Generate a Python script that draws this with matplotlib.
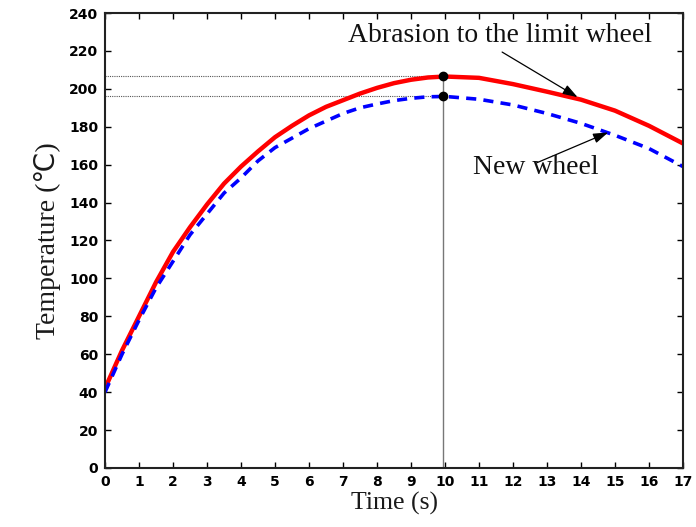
import matplotlib
matplotlib.use("Agg")
import matplotlib.pyplot as plt

time_s = [0, 0.5, 1, 1.5, 2, 2.5, 3, 3.5, 4, 4.5, 5, 5.5, 6, 6.5, 7, 7.5,
          8, 8.5, 9, 9.5, 10, 11, 12, 13, 14, 15, 16, 17]
temp_worn = [42, 62, 80, 98, 114, 127, 139, 150, 159, 167, 174.5, 180.5, 186,
             190.5, 194, 197.5, 200.5, 203, 204.8, 206, 206.5, 205.8, 202.5,
             198.5, 194.3, 188.5, 180.5, 171.2]
temp_new = [40, 60, 78, 95, 109, 123, 134, 145, 153, 162, 169, 174, 179, 183,
            187, 190, 192, 193.8, 195, 195.8, 196, 194.5, 191.5, 187, 181.8,
            175.5, 168.5, 159]

peak_time = 9.94
peak_worn = 206.8
peak_new = 196.2

serif = "Liberation Serif"
arrow = dict(arrowstyle="-|>,head_length=0.9,head_width=0.3", mutation_scale=10,
             color="black", lw=0.9, shrinkA=0, shrinkB=0)


def main():
    fig = plt.figure(figsize=(6.96, 5.27), dpi=100)
    ax = fig.add_axes([0.1509, 0.112, 0.8304, 0.8633])

    # guide lines to the peaks
    ax.plot([0, peak_time], [peak_worn, peak_worn], color="#555555", lw=0.8, ls=(0, (1, 1)))
    ax.plot([0, peak_time], [peak_new, peak_new], color="#555555", lw=0.8, ls=(0, (1, 1)))
    ax.plot([peak_time, peak_time], [0, peak_worn], color="#777777", lw=1.0)

    ax.plot(time_s, temp_worn, color="#ff0000", lw=3.2, solid_capstyle="butt")
    ax.plot(time_s, temp_new, color="#0000ff", lw=2.6, dashes=(2.8, 2.0))

    ax.plot([peak_time, peak_time], [peak_worn, peak_new], "o", color="black", ms=6)

    ax.text(11.62, 228, "Abrasion to the limit wheel", ha="center", va="center",
            fontsize=20, family=serif, color="#111111")
    ax.annotate("", xy=(13.9, 195.6), xytext=(11.68, 219.4), arrowprops=arrow)
    ax.annotate("", xy=(14.8, 177), xytext=(12.7, 161), arrowprops=arrow)
    ax.text(12.68, 158.5, "New wheel", ha="center", va="center", fontsize=20,
            family=serif, color="#111111")

    ax.set_xlim(0, 17)
    ax.set_ylim(0, 240)
    ax.set_xticks(range(0, 18))
    ax.set_yticks(range(0, 241, 20))
    ax.tick_params(direction="in", top=True, right=True, length=4, width=1,
                   labelsize=10, pad=5)
    for lab in ax.get_xticklabels() + ax.get_yticklabels():
        lab.set_fontweight("bold")
        lab.set_family("DejaVu Sans")
    for sp in ax.spines.values():
        sp.set_linewidth(1.5)
        sp.set_color("#222222")

    ax.set_xlabel("Time (s)", fontsize=18.5, family=serif, color="#1a1a1a", labelpad=2)
    ax.set_ylabel("Temperature (℃)", fontsize=20, family=[serif, "DejaVu Sans"],
                  color="#1a1a1a", labelpad=6)

    fig.savefig("out.png", dpi=100)


if __name__ == "__main__":
    main()
